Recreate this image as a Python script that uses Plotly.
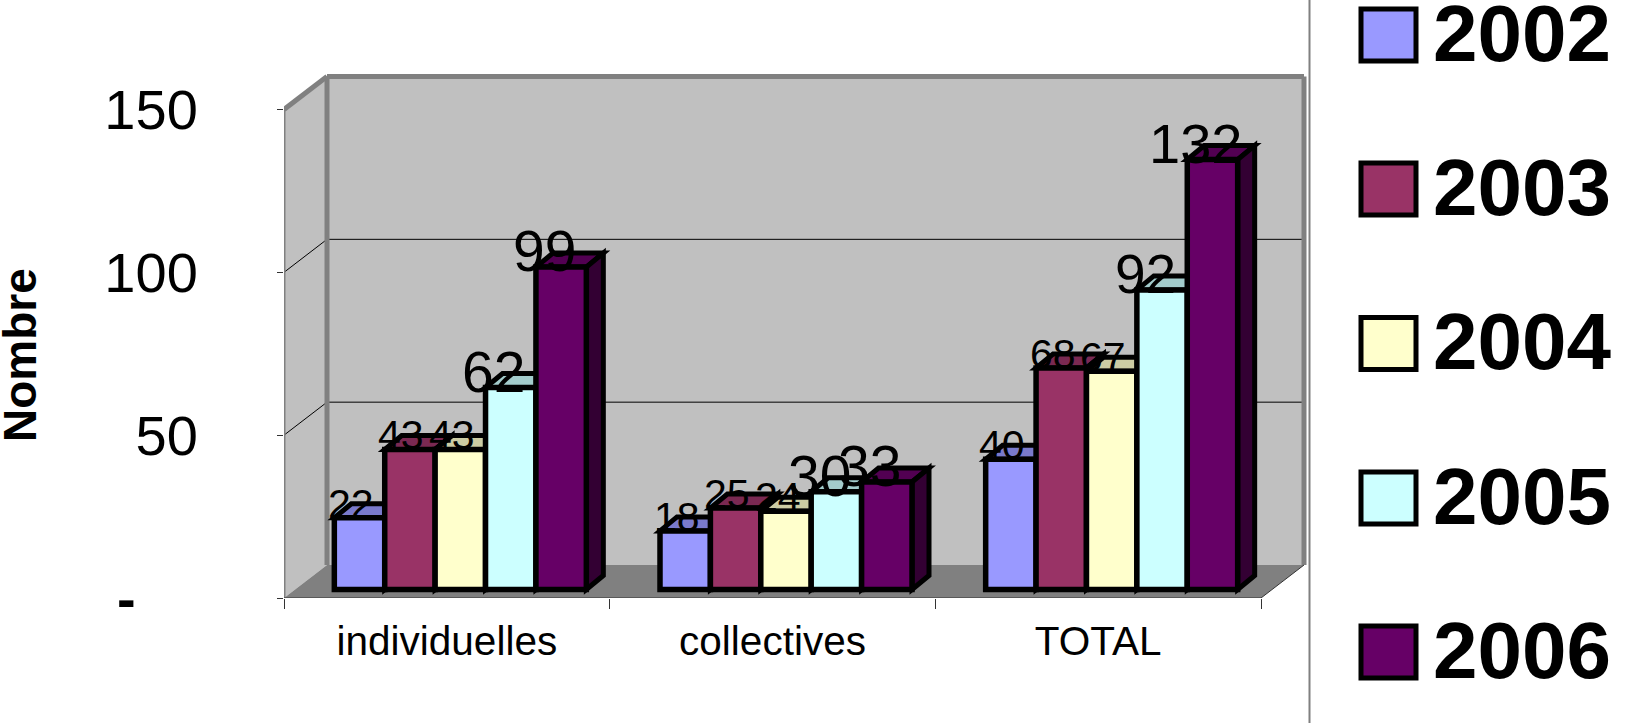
import plotly.graph_objects as go

categories = ["individuelles", "collectives", "TOTAL"]
years = ["2002", "2003", "2004", "2005", "2006"]
v2002 = [22, 18, 40]
v2003 = [43, 25, 68]
v2004 = [43, 24, 67]
v2005 = [62, 30, 92]
v2006 = [99, 33, 132]
series = [v2002, v2003, v2004, v2005, v2006]
fills = ["#9999FF", "#993366", "#FFFFCC", "#CCFFFF", "#660066"]
tops = ["#7A7ACC", "#7A2952", "#CCCCA3", "#A3CCCC", "#520052"]
sides = ["#4D4D80", "#4D1A33", "#808066", "#668080", "#330033"]
label_sizes = [[41, 41, 41], [41, 41, 41], [41, 41, 41], [57, 57, 55], [57, 57, 56]]
ytick_vals = [0, 50, 100, 150]
ytick_text = ["<b>-</b>\u00a0\u00a0\u00a0\u00a0", "50", "100", "150"]

W, H = 1650, 723
L, R, T, B = 284, 338, 67, 125
PX_X = 977 / 3
PX_Y = 488.5 / 150
BAR_W = 50.4 / PX_X
SHIFT = 13.5 / PX_X
BASE = 8.5 / PX_Y
DX, DY = 17 / PX_X, 14 / PX_Y
WX, WY = 43 / PX_X, 33 / PX_Y
XMIN, XMAX = -0.5, 2.5
xr = [XMIN, XMIN + (W - L - R) / PX_X]
yr = [0, (H - T - B) / PX_Y]
GRAY = "#808080"


def poly(pts, fill, line=None, width=0, layer="below"):
    path = "M " + " L ".join(f"{x},{y}" for x, y in pts) + " Z"
    return dict(type="path", path=path, xref="x", yref="y", fillcolor=fill, layer=layer,
                line=dict(color=line or "rgba(0,0,0,0)", width=width))


def seg(x0, y0, x1, y1, color, width):
    return dict(type="line", xref="x", yref="y", x0=x0, y0=y0, x1=x1, y1=y1, layer="below",
                line=dict(color=color, width=width))


shapes = [
    poly([(XMIN + WX, WY), (XMAX + WX, WY), (XMAX + WX, 150 + WY), (XMIN + WX, 150 + WY)], "#C0C0C0"),
    poly([(XMIN, 0), (XMIN + WX, WY), (XMIN + WX, 150 + WY), (XMIN, 150)], "#C0C0C0"),
    poly([(XMIN, 0), (XMAX, 0), (XMAX + WX, WY), (XMIN + WX, WY)], GRAY),
]
for g in [50, 100]:
    shapes.append(seg(XMIN, g, XMIN + WX, g + WY, "#000000", 1))
    shapes.append(seg(XMIN + WX, g + WY, XMAX + WX, g + WY, "#000000", 1))
shapes += [
    seg(XMIN, 150, XMIN + WX, 150 + WY, GRAY, 5),
    seg(XMIN + WX, 150 + WY, XMAX + WX, 150 + WY, GRAY, 5),
    seg(XMAX + WX, 150 + WY, XMAX + WX, WY, GRAY, 5),
    seg(XMIN + WX, 150 + WY, XMIN + WX, WY, GRAY, 5),
    seg(XMIN, 150, XMIN, 0, GRAY, 3),
    seg(XMIN, 0, XMAX, 0, "#333333", 1),
    seg(XMAX, 0, XMAX + WX, WY, "#333333", 1),
]

fig = go.Figure()
annotations = []
for i, vals in enumerate(series):
    off = (i - 2.5) * BAR_W + SHIFT
    fig.add_trace(go.Bar(
        x=list(range(3)), y=vals, base=BASE, width=BAR_W, offset=off, name=years[i],
        marker=dict(color=fills[i], line=dict(color="#000000", width=5.5)),
        showlegend=False, cliponaxis=False,
    ))
    for c, v in enumerate(vals):
        x0, x1 = c + off, c + off + BAR_W
        y0, y1 = BASE, BASE + v
        shapes.append(poly([(x0, y1), (x1, y1), (x1 + DX, y1 + DY), (x0 + DX, y1 + DY)], tops[i], "#000000", 5))
        shapes.append(poly([(x1, y0), (x1 + DX, y0 + DY), (x1 + DX, y1 + DY), (x1, y1)], sides[i], "#000000", 5))
        size = label_sizes[i][c]
        annotations.append(dict(
            x=(x0 + x1) / 2, y=y1, xref="x", yref="y", text=str(v), showarrow=False,
            xshift=-17 if size > 45 else -8.5, yshift=16 if size > 45 else 14,
            font=dict(family="Liberation Sans", size=size, color="#000000"),
        ))

SEP_X = 1309.5
shapes.append(dict(type="line", xref="paper", yref="paper", x0=(SEP_X - L) / (W - L - R),
                   x1=(SEP_X - L) / (W - L - R), y0=-B / (H - T - B), y1=(H - B) / (H - T - B),
                   line=dict(color="#808080", width=2), layer="above"))

legend_y = [33, 187, 341.5, 496, 650]
for i, yr_name in enumerate(years):
    cy = legend_y[i]
    shapes.append(dict(type="rect", xref="paper", yref="paper",
                       x0=(1361 - L) / (W - L - R), x1=(1416 - L) / (W - L - R),
                       y0=(H - B - cy - 28) / (H - T - B), y1=(H - B - cy + 24) / (H - T - B),
                       fillcolor=fills[i], line=dict(color="#000000", width=5), layer="above"))
    annotations.append(dict(
        x=(1430.5 - L) / (W - L - R), y=(H - B - cy) / (H - T - B), xref="paper", yref="paper",
        xanchor="left", yanchor="middle", text=yr_name, showarrow=False,
        font=dict(family="Liberation Sans", size=80, color="#000000", weight="bold"),
    ))

annotations.append(dict(
    x=(20 - L) / (W - L - R), y=(H - B - 355) / (H - T - B), xref="paper", yref="paper",
    text="Nombre", textangle=-90, showarrow=False, xanchor="center", yanchor="middle",
    font=dict(family="Liberation Sans", size=46, color="#000000", weight="bold"),
))

fig.update_layout(
    width=W, height=H, autosize=False,
    margin=dict(l=L, r=R, t=T, b=B, pad=0),
    paper_bgcolor="#FFFFFF", plot_bgcolor="rgba(0,0,0,0)",
    barmode="overlay", shapes=shapes, annotations=annotations, showlegend=False,
    xaxis=dict(
        range=xr, tickmode="array", tickvals=[0, 1, 2], ticktext=categories,
        ticks="", showgrid=False, zeroline=False, showline=False, ticklabelstandoff=15,
        tickfont=dict(family="Liberation Sans", size=40.5, color="#000000"),
        minor=dict(tickmode="array", tickvals=[-0.5, 0.5, 1.5, 2.5], ticks="outside",
                   ticklen=10, tickwidth=1, tickcolor="#333333", showgrid=False),
    ),
    yaxis=dict(
        range=yr, tickmode="array", tickvals=ytick_vals, ticktext=ytick_text,
        ticks="outside", ticklen=6, tickwidth=1, tickcolor="#333333",
        showgrid=False, zeroline=False, showline=False, ticklabelstandoff=68,
        tickfont=dict(family="Liberation Sans", size=56, color="#000000"),
    ),
)
fig.write_html("out.html", config={"displayModeBar": False},
               post_script="document.body.style.margin='0';document.body.style.overflow='hidden';")
